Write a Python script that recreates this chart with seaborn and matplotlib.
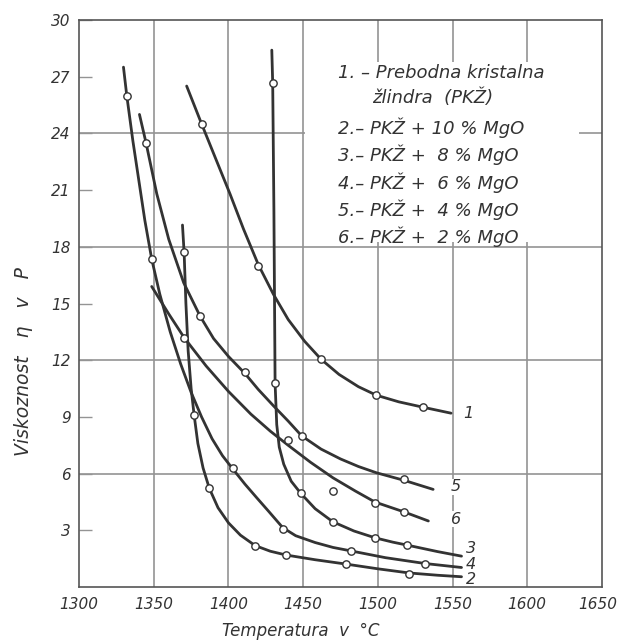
import matplotlib
matplotlib.use("Agg")
import matplotlib.pyplot as plt
from matplotlib.patches import Rectangle
from matplotlib.transforms import ScaledTranslation
import seaborn as sns
import pandas as pd

# ---- data ----
# curve 1: Prebodna kristalna zlindra (PKZ)
c1_T   = [1372, 1382, 1392, 1401, 1410, 1420, 1430, 1440, 1451, 1462, 1474, 1487, 1499, 1514, 1530, 1549]
c1_eta = [26.5, 24.5, 22.55, 20.8, 18.95, 17.05, 15.5, 14.15, 13.0, 12.05, 11.25, 10.6, 10.15, 9.8, 9.52, 9.2]
m1_T   = [1382, 1420, 1462, 1499, 1530]
m1_eta = [24.5, 17.0, 12.05, 10.15, 9.55]

# curve 2: PKZ + 10 % MgO
c2_T   = [1369.2, 1370.3, 1371.5, 1373, 1375, 1377, 1379.5, 1383, 1387.2, 1393, 1400, 1408, 1417.8,
          1428, 1438.5, 1458, 1478.7, 1500, 1521, 1540, 1556]
c2_eta = [19.15, 17.7, 15.0, 12.5, 10.5, 9.1, 7.6, 6.3, 5.22, 4.2, 3.4, 2.75, 2.2,
          1.9, 1.7, 1.45, 1.22, 0.97, 0.75, 0.63, 0.55]
m2_T   = [1370.3, 1377, 1387.2, 1417.8, 1438.5, 1478.7, 1521]
m2_eta = [17.7, 9.1, 5.22, 2.17, 1.69, 1.22, 0.72]

# curve 3: PKZ + 8 % MgO
c3_T   = [1429, 1429.6, 1430.4, 1431.2, 1432.3, 1434, 1437, 1442, 1448.4, 1458, 1469.8, 1484, 1498.1,
          1510, 1519.8, 1540, 1556]
c3_eta = [28.4, 26.65, 20.0, 10.78, 8.6, 7.4, 6.5, 5.6, 4.96, 4.15, 3.46, 2.97, 2.61,
          2.38, 2.22, 1.88, 1.64]
m3_T   = [1429.6, 1431.2, 1448.4, 1469.8, 1498.1, 1519.8]
m3_eta = [26.65, 10.78, 4.96, 3.46, 2.61, 2.22]

# curve 4: PKZ + 6 % MgO
c4_T   = [1329.7, 1331.9, 1336, 1340, 1344, 1348.6, 1354, 1361, 1368, 1375, 1382, 1389, 1396, 1402.9,
          1411, 1419, 1427, 1436.3, 1445, 1458, 1470, 1481.8, 1505, 1531.6, 1556]
c4_eta = [27.5, 26.0, 23.6, 21.5, 19.4, 17.35, 15.5, 13.5, 11.8, 10.3, 9.0, 7.85, 6.95, 6.25,
          5.45, 4.72, 4.0, 3.15, 2.72, 2.36, 2.1, 1.92, 1.56, 1.25, 1.04]
m4_T   = [1331.9, 1348.6, 1402.9, 1436.3, 1481.8, 1531.6]
m4_eta = [26.0, 17.35, 6.28, 3.1, 1.92, 1.25]

# curve 5: PKZ + 4 % MgO
c5_T   = [1340.4, 1344.8, 1352, 1360, 1370, 1381, 1390, 1400, 1411, 1420, 1430, 1440, 1449, 1462,
          1475, 1487, 1499, 1517.5, 1537]
c5_eta = [25.0, 23.5, 20.8, 18.4, 16.1, 14.33, 13.15, 12.2, 11.3, 10.45, 9.6, 8.78, 8.0, 7.3,
          6.78, 6.38, 6.05, 5.65, 5.17]
m5_T   = [1344.8, 1381, 1411, 1449, 1517.5]
m5_eta = [23.5, 14.33, 11.39, 7.99, 5.71]

# curve 6: PKZ + 2 % MgO
c6_T   = [1348.6, 1360, 1370.3, 1385, 1400, 1415, 1428, 1440, 1455, 1470, 1485, 1498.1, 1517.5, 1533.8]
c6_eta = [15.9, 14.45, 13.2, 11.7, 10.35, 9.15, 8.25, 7.5, 6.6, 5.78, 5.08, 4.5, 3.98, 3.5]
m6_T   = [1370.3, 1440, 1470, 1498.1, 1517.5]
m6_eta = [13.2, 7.78, 5.1, 4.43, 3.98]

legend_lines = ["1. – Prebodna kristalna", "žlindra  (PKŽ)",
                "2.– PKŽ + 10 % MgO", "3.– PKŽ +  8 % MgO", "4.– PKŽ +  6 % MgO",
                "5.– PKŽ +  4 % MgO", "6.– PKŽ +  2 % MgO"]
curve_labels = ["1", "2", "3", "4", "5", "6"]
label_T   = [1557, 1559, 1559, 1559, 1549, 1549]
label_eta = [9.2, 0.4, 2.05, 1.2, 5.3, 3.6]

x_ticks = [1300, 1350, 1400, 1450, 1500, 1550, 1600, 1650]
y_ticks = [3, 6, 9, 12, 15, 18, 21, 24, 27, 30]
grid_x = [1350, 1400, 1450, 1500, 1550, 1600]
grid_y = [6, 12, 18, 24]

curves = [(c1_T, c1_eta), (c2_T, c2_eta), (c3_T, c3_eta),
          (c4_T, c4_eta), (c5_T, c5_eta), (c6_T, c6_eta)]
marks = [(m1_T, m1_eta), (m2_T, m2_eta), (m3_T, m3_eta),
         (m4_T, m4_eta), (m5_T, m5_eta), (m6_T, m6_eta)]

line_df = pd.concat([pd.DataFrame({"T": t, "eta": e, "c": str(i + 1)})
                     for i, (t, e) in enumerate(curves)], ignore_index=True)
mark_df = pd.concat([pd.DataFrame({"T": t, "eta": e, "c": str(i + 1)})
                     for i, (t, e) in enumerate(marks)], ignore_index=True)

# ---- style ----
sns.set_style("white")
plt.rcParams["font.family"] = ["DejaVu Sans"]
plt.rcParams["font.style"] = "italic"
ink = "#333333"
gridc = "#949494"

fig = plt.figure(figsize=(6.18, 6.41), dpi=100)
ax = fig.add_axes([0.128, 0.084, 0.846, 0.885])

for gx in grid_x:
    ax.axvline(gx, color=gridc, lw=1.2, zorder=1)
for gy in grid_y:
    ax.axhline(gy, color=gridc, lw=1.2, zorder=1)

# white field for the key
ax.add_patch(Rectangle((1451.5, 18.25), 183, 9.5, facecolor="white", edgecolor="none", zorder=2))

for name in curve_labels:
    sub = line_df[line_df["c"] == name]
    sns.lineplot(data=sub, x="T", y="eta", sort=False, estimator=None, color=ink,
                 lw=2.0, ax=ax, zorder=3, legend=False)
sns.scatterplot(data=mark_df, x="T", y="eta", marker="o", s=28, facecolor="white",
                edgecolor=ink, linewidth=1.0, ax=ax, zorder=4, legend=False)

ax.set_xlim(1300, 1650)
ax.set_ylim(0, 30)
ax.set_xticks(x_ticks)
ax.set_yticks(y_ticks)
ax.set_xticklabels([str(v) for v in x_ticks], fontsize=11, color=ink, style="italic")
ax.set_yticklabels([str(v) for v in y_ticks], fontsize=11, color=ink, style="italic")
ax.tick_params(axis="x", length=0, pad=7)
ax.tick_params(axis="y", direction="in", length=9, width=1.0, color=gridc, pad=6, left=True)
last = ax.get_xticklabels()[-1]
last.set_transform(last.get_transform() + ScaledTranslation(-4 / 100, 0, fig.dpi_scale_trans))
for s in ax.spines.values():
    s.set_color("#555555")
    s.set_linewidth(1.2)

ax.set_xlabel("Temperatura  v  °C", fontsize=12, color=ink, style="italic")
ax.xaxis.set_label_coords(0.424, -0.062)
ax.set_ylabel("Viskoznost   η   v   P", fontsize=13.5, color=ink, style="italic")
ax.yaxis.set_label_coords(-0.088, 0.397)

# key text
key_y = [27.2, 25.9, 24.3, 22.85, 21.4, 19.95, 18.55]
key_x = [1473, 1496, 1473, 1473, 1473, 1473, 1473]
for txt, kx, ky in zip(legend_lines, key_x, key_y):
    ax.text(kx, ky, txt, fontsize=13, color=ink, style="italic", va="center", ha="left", zorder=5)

for lab, lx, ly in zip(curve_labels, label_T, label_eta):
    bb = dict(facecolor="white", edgecolor="none", pad=0.3) if lab in ("5", "6") else None
    ax.text(lx, ly, lab, fontsize=11.5, color=ink, style="italic", va="center", ha="left", zorder=5,
            bbox=bb)

fig.savefig("out.png", dpi=100)
